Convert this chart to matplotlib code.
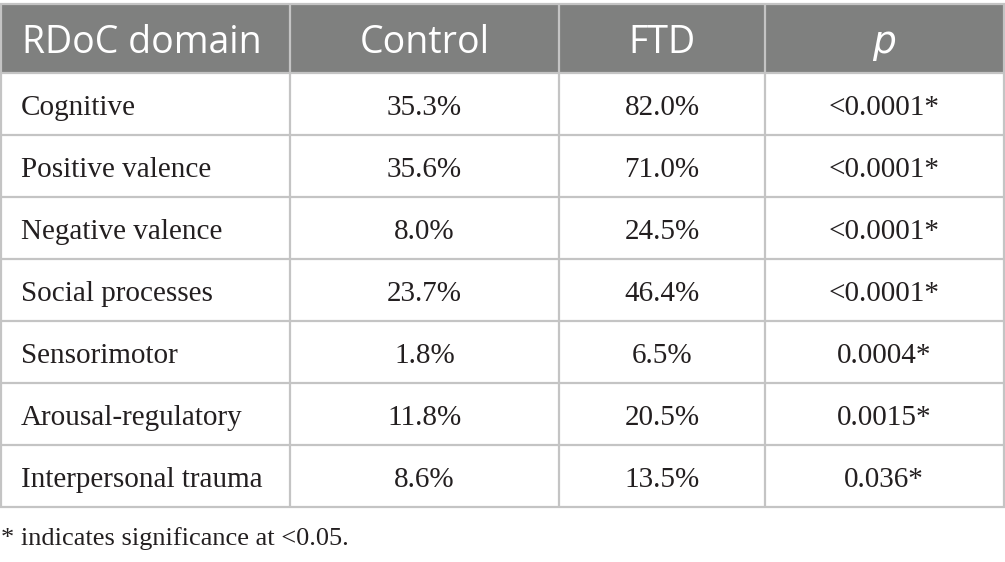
import matplotlib
matplotlib.use("Agg")
import matplotlib.pyplot as plt
from matplotlib.patches import Rectangle

columns = ["RDoC domain", "Control", "FTD", "$\\it{p}$"]
domains = ["Cognitive", "Positive valence", "Negative valence", "Social processes",
           "Sensorimotor", "Arousal-regulatory", "Interpersonal trauma"]
control = ["35.3%", "35.6%", "8.0%", "23.7%", "1.8%", "11.8%", "8.6%"]
ftd = ["82.0%", "71.0%", "24.5%", "46.4%", "6.5%", "20.5%", "13.5%"]
pvals = ["<0.0001*", "<0.0001*", "<0.0001*", "<0.0001*", "0.0004*", "0.0015*", "0.036*"]
footnote = "* indicates significance at <0.05."

W, H = 1005, 562
fig = plt.figure(figsize=(W / 100, H / 100), dpi=100)
ax = fig.add_axes([0, 0, 1, 1])
ax.set_xlim(0, W)
ax.set_ylim(H, 0)
ax.axis("off")

col_edges = [0.5, 290, 559, 765, 1003.5]
top = 4
header_bottom = 72.5
row_h = 62
n = len(domains)
bottom = header_bottom + n * row_h

header_color = "#7f807f"
line_color = "#c4c4c4"

ax.add_patch(Rectangle((col_edges[0], top), col_edges[-1] - col_edges[0],
                       header_bottom - top, facecolor=header_color, edgecolor="none"))

# grid lines
for x in col_edges:
    ax.plot([x, x], [top, bottom], color=line_color, lw=1.6, solid_capstyle="butt")
for i in range(n + 1):
    y = header_bottom + i * row_h
    ax.plot([col_edges[0], col_edges[-1]], [y, y], color=line_color, lw=1.6)
ax.plot([col_edges[0], col_edges[-1]], [top, top], color=line_color, lw=1.6)

hfont = dict(family="Open Sans", fontsize=27, color="white", va="baseline")
hb = 53
ax.text(22, hb, columns[0], ha="left", **hfont)
for j in range(1, 4):
    cx = (col_edges[j] + col_edges[j + 1]) / 2
    ax.text(cx, hb, columns[j], ha="center", **hfont)

bfont = dict(family="Liberation Serif", fontsize=21, color="#231f20", va="baseline")
for i in range(n):
    by = header_bottom + i * row_h + 42.5
    ax.text(21, by, domains[i], ha="left", **bfont)
    for j, vals in enumerate([control, ftd, pvals], start=1):
        cx = (col_edges[j] + col_edges[j + 1]) / 2
        ax.text(cx, by, vals[i], ha="center", **bfont)

ffont = dict(bfont)
ffont["fontsize"] = 19
ax.text(1, 545, footnote, ha="left", **ffont)

fig.savefig("out.png", dpi=100)
